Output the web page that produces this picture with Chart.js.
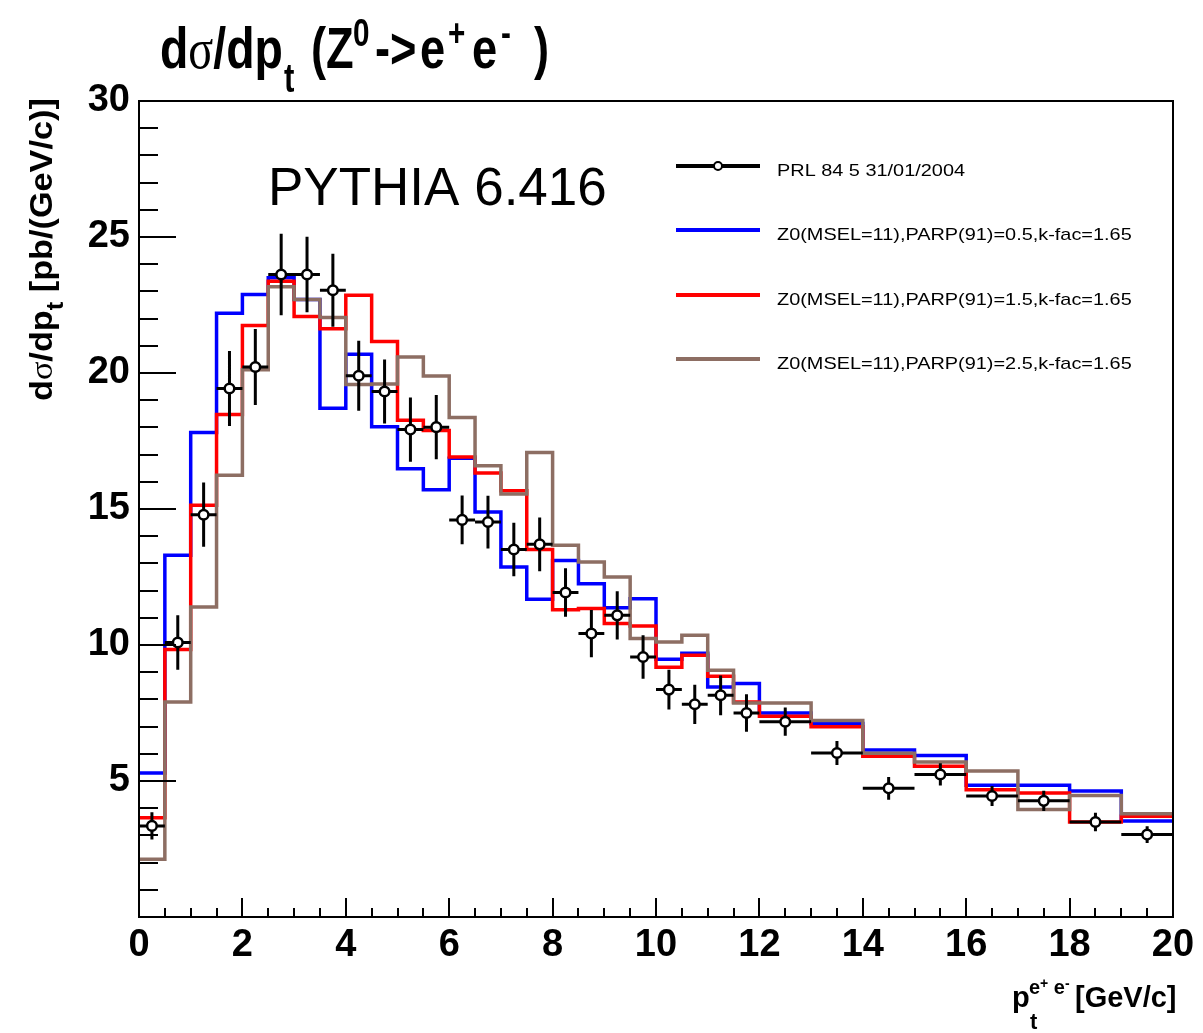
<!DOCTYPE html>
<html><head><meta charset="utf-8">
<script src="https://cdn.jsdelivr.net/npm/chart.js@4.4.1/dist/chart.umd.min.js"></script>
<style>html,body{margin:0;padding:0;background:#fff;}canvas{display:block;}</style>
</head><body>
<canvas id="c" width="1203" height="1033"></canvas>
<script>
// ---------------- data ----------------
const binEdges = [0,0.5,1,1.5,2,2.5,3,3.5,4,4.5,5,5.5,6,6.5,7,7.5,8,8.5,9,9.5,10,10.5,11,11.5,12,13,14,15,16,17,18,19,20];
const parp05 = [5.29,13.3,17.81,22.2,22.89,23.5,22.7,18.7,20.69,18.02,16.48,15.71,16.87,14.89,12.87,11.68,13.11,12.25,11.37,11.7,9.48,9.7,8.46,8.58,7.5,7.11,6.14,5.94,4.84,4.84,4.63,3.53];
const parp15 = [3.65,9.83,15.14,18.47,21.75,23.37,22.08,21.63,22.86,21.16,18.26,17.89,16.91,16.32,15.67,13.51,11.3,11.34,10.79,10.7,9.18,9.62,8.85,7.9,7.38,6.99,5.91,5.54,4.68,4.56,3.49,3.7];
const parp25 = [2.12,7.9,11.4,16.24,20.12,23.17,22.7,22.04,19.58,19.6,20.59,19.89,18.36,16.59,15.55,17.08,13.67,13.05,12.5,10.24,10.11,10.36,9.07,7.87,7.87,7.22,6.02,5.7,5.37,3.95,4.47,3.8];
const dataX = [0.25,0.75,1.25,1.75,2.25,2.75,3.25,3.75,4.25,4.75,5.25,5.75,6.25,6.75,7.25,7.75,8.25,8.75,9.25,9.75,10.25,10.75,11.25,11.75,12.5,13.5,14.5,15.5,16.5,17.5,18.5,19.5];
const dataXErr = [0.25,0.25,0.25,0.25,0.25,0.25,0.25,0.25,0.25,0.25,0.25,0.25,0.25,0.25,0.25,0.25,0.25,0.25,0.25,0.25,0.25,0.25,0.25,0.25,0.5,0.5,0.5,0.5,0.5,0.5,0.5,0.5];
const dataY = [3.35,10.09,14.79,19.43,20.22,23.62,23.62,23.04,19.9,19.32,17.92,18.01,14.6,14.52,13.51,13.7,11.93,10.42,11.09,9.56,8.36,7.82,8.15,7.5,7.18,6.03,4.73,5.24,4.45,4.27,3.49,3.03];
const dataYErr = [0.5,1.0,1.18,1.38,1.4,1.5,1.39,1.34,1.29,1.18,1.18,1.18,0.9,0.97,0.98,0.99,0.89,0.87,0.89,0.8,0.73,0.72,0.73,0.69,0.52,0.44,0.42,0.41,0.37,0.37,0.34,0.31];
const xTickLabels = [0,2,4,6,8,10,12,14,16,18,20];
const yTickLabels = [5,10,15,20,25,30];
const seriesLabels = ['PRL 84 5 31/01/2004','Z0(MSEL=11),PARP(91)=0.5,k-fac=1.65','Z0(MSEL=11),PARP(91)=1.5,k-fac=1.65','Z0(MSEL=11),PARP(91)=2.5,k-fac=1.65'];
const seriesColors = ['#000000','#0000ff','#ff0000','#8d6e63'];

// ---------------- helpers ----------------
function stepPoints(vals){
  const pts = vals.map((v,i)=>({x:binEdges[i], y:v}));
  pts.push({x:binEdges[binEdges.length-1], y:vals[vals.length-1]});
  return pts;
}
function errorPoints(){
  const pts = [];
  dataX.forEach((x,i)=>{
    const y = dataY[i], ey = dataYErr[i], ex = dataXErr[i];
    pts.push({x:x, y:y-ey},{x:x, y:y+ey},{x:x, y:null});
    pts.push({x:x-ex, y:y},{x:x+ex, y:y},{x:x+ex, y:null});
  });
  return pts;
}
const B = s => `bold ${s}px "Liberation Sans", Arial, sans-serif`;
const N = s => `${s}px "Liberation Sans", Arial, sans-serif`;
const S = s => `${s}px "Liberation Serif", "Times New Roman", serif`;

function drawFlow(ctx, ox, oy, rot, sx, segs){
  ctx.save();
  ctx.translate(ox, oy);
  if (rot) ctx.rotate(rot);
  ctx.fillStyle = '#000';
  ctx.textBaseline = 'alphabetic';
  let cur = 0;
  segs.forEach(s=>{
    ctx.font = s.f;
    cur += (s.dx||0);
    ctx.save();
    ctx.translate(cur, s.dy||0);
    ctx.scale(sx,1);
    ctx.fillText(s.t, 0, 0);
    ctx.restore();
    cur += ctx.measureText(s.t).width*sx;
  });
  ctx.restore();
}
function drawAt(ctx, x, y, sx, t, f){
  drawFlow(ctx, x, y, 0, sx, [{t:t, f:f}]);
}

const decor = {
  id:'decor',
  afterDraw(chart){
    const {ctx, chartArea:a, scales:{x,y}} = chart;
    ctx.save();
    // tick marks (inward)
    ctx.strokeStyle = '#000'; ctx.lineWidth = 2;
    for (let v=0; v<=30; v+=1){
      const py = Math.round(y.getPixelForValue(v));
      const len = (v%5===0) ? 37 : 19;
      ctx.beginPath(); ctx.moveTo(a.left, py); ctx.lineTo(a.left+len, py); ctx.stroke();
    }
    for (let v=0; v<=20.001; v+=0.5){
      const px = Math.round(x.getPixelForValue(v));
      const len = (Math.abs(v%2)<1e-6) ? 19 : 9;
      ctx.beginPath(); ctx.moveTo(px, a.bottom); ctx.lineTo(px, a.bottom-len); ctx.stroke();
    }
    // frame
    ctx.lineWidth = 2;
    ctx.strokeRect(a.left, a.top, a.right-a.left, a.bottom-a.top);

    // title  d\sigma/dp_t (Z^0 -> e^+ e^-)
    const tsx = 0.78;
    drawFlow(ctx, 160, 68, 0, 0.8, [{t:'d', f:B(58)}, {t:'σ', f:S(58)}, {t:'/dp', f:B(58)}]);
    drawAt(ctx, 284, 92, tsx, 't', B(40));
    drawAt(ctx, 311, 68, tsx, '(Z', B(58));
    drawAt(ctx, 353, 46, tsx, '0', B(38));
    drawAt(ctx, 375, 68, tsx, '->', B(58));
    drawAt(ctx, 420, 68, tsx, 'e', B(58));
    drawAt(ctx, 448, 46, tsx, '+', B(38));
    drawAt(ctx, 472, 68, tsx, 'e', B(58));
    drawAt(ctx, 501, 46, tsx, '-', B(38));
    drawAt(ctx, 534, 68, tsx, ')', B(58));

    // y-axis title
    drawFlow(ctx, 52, 401, -Math.PI/2, 1.07, [
      {t:'d', f:B(32)}, {t:'σ', f:S(32)}, {t:'/dp', f:B(32)}, {t:'t', f:B(24), dy:11},
      {t:' [pb/(GeV/c)]', f:B(32)}
    ]);
    // x-axis title
    drawAt(ctx, 1012, 1007, 1.0, 'p', B(29));
    drawAt(ctx, 1030, 1029, 1.0, 't', B(22));
    drawFlow(ctx, 1029, 994, 0, 1.0, [{t:'e', f:B(20)},{t:'+', f:B(14), dy:-6},{t:' e', f:B(20)},{t:'-', f:B(14), dy:-6}]);
    drawAt(ctx, 1075, 1007, 1.0, '[GeV/c]', B(29));

    // PYTHIA label
    drawAt(ctx, 268, 205, 1.0, 'PYTHIA 6.416', N(53));

    // legend
    const ly = [166, 230, 295, 359];
    seriesLabels.forEach((lab,i)=>{
      ctx.strokeStyle = seriesColors[i];
      ctx.lineWidth = 4;
      ctx.beginPath(); ctx.moveTo(676, ly[i]); ctx.lineTo(760, ly[i]); ctx.stroke();
      if (i===0){
        ctx.fillStyle = '#fff'; ctx.strokeStyle='#000'; ctx.lineWidth=2;
        ctx.beginPath(); ctx.arc(718, ly[i], 4, 0, Math.PI*2); ctx.fill(); ctx.stroke();
      }
      drawAt(ctx, 777, ly[i]+10, 1.17, lab, N(17));
    });
    ctx.restore();
  }
};

const tickFont = {family:'"Liberation Sans", Arial, sans-serif', weight:'bold', size:38};

new Chart(document.getElementById('c'), {
  type:'line',
  data:{datasets:[
    {label:seriesLabels[0], type:'scatter', data:dataX.map((x,i)=>({x:x, y:dataY[i]})),
     pointRadius:4.8, pointBackgroundColor:'#fff', pointBorderColor:'#000', pointBorderWidth:2.5, showLine:false, order:0},
    {label:'errors', data:errorPoints(), borderColor:'#000', borderWidth:3, pointRadius:0, spanGaps:false, fill:false, order:1},
    {label:seriesLabels[3], data:stepPoints(parp25), stepped:true, borderColor:seriesColors[3], borderWidth:3.5, pointRadius:0, fill:false, order:2},
    {label:seriesLabels[2], data:stepPoints(parp15), stepped:true, borderColor:seriesColors[2], borderWidth:3.5, pointRadius:0, fill:false, order:3},
    {label:seriesLabels[1], data:stepPoints(parp05), stepped:true, borderColor:seriesColors[1], borderWidth:3.5, pointRadius:0, fill:false, order:4}
  ]},
  options:{
    responsive:false, animation:false, devicePixelRatio:1,
    layout:{padding:{left:0, top:101, right:30, bottom:0}},
    plugins:{legend:{display:false}, tooltip:{enabled:false}, title:{display:false}},
    scales:{
      x:{type:'linear', min:0, max:20,
         afterBuildTicks:s=>{s.ticks = xTickLabels.map(v=>({value:v}));},
         afterFit:s=>{s.height = 116;},
         grid:{display:false, drawTicks:false}, border:{display:false},
         ticks:{font:tickFont, color:'#000', padding:6, maxRotation:0, autoSkip:false}},
      y:{type:'linear', min:0, max:30,
         afterBuildTicks:s=>{s.ticks = yTickLabels.map(v=>({value:v}));},
         afterFit:s=>{s.width = 139;},
         grid:{display:false, drawTicks:false}, border:{display:false},
         ticks:{font:tickFont, color:'#000', padding:9, autoSkip:false}}
    }
  },
  plugins:[decor]
});
</script>
</body></html>
